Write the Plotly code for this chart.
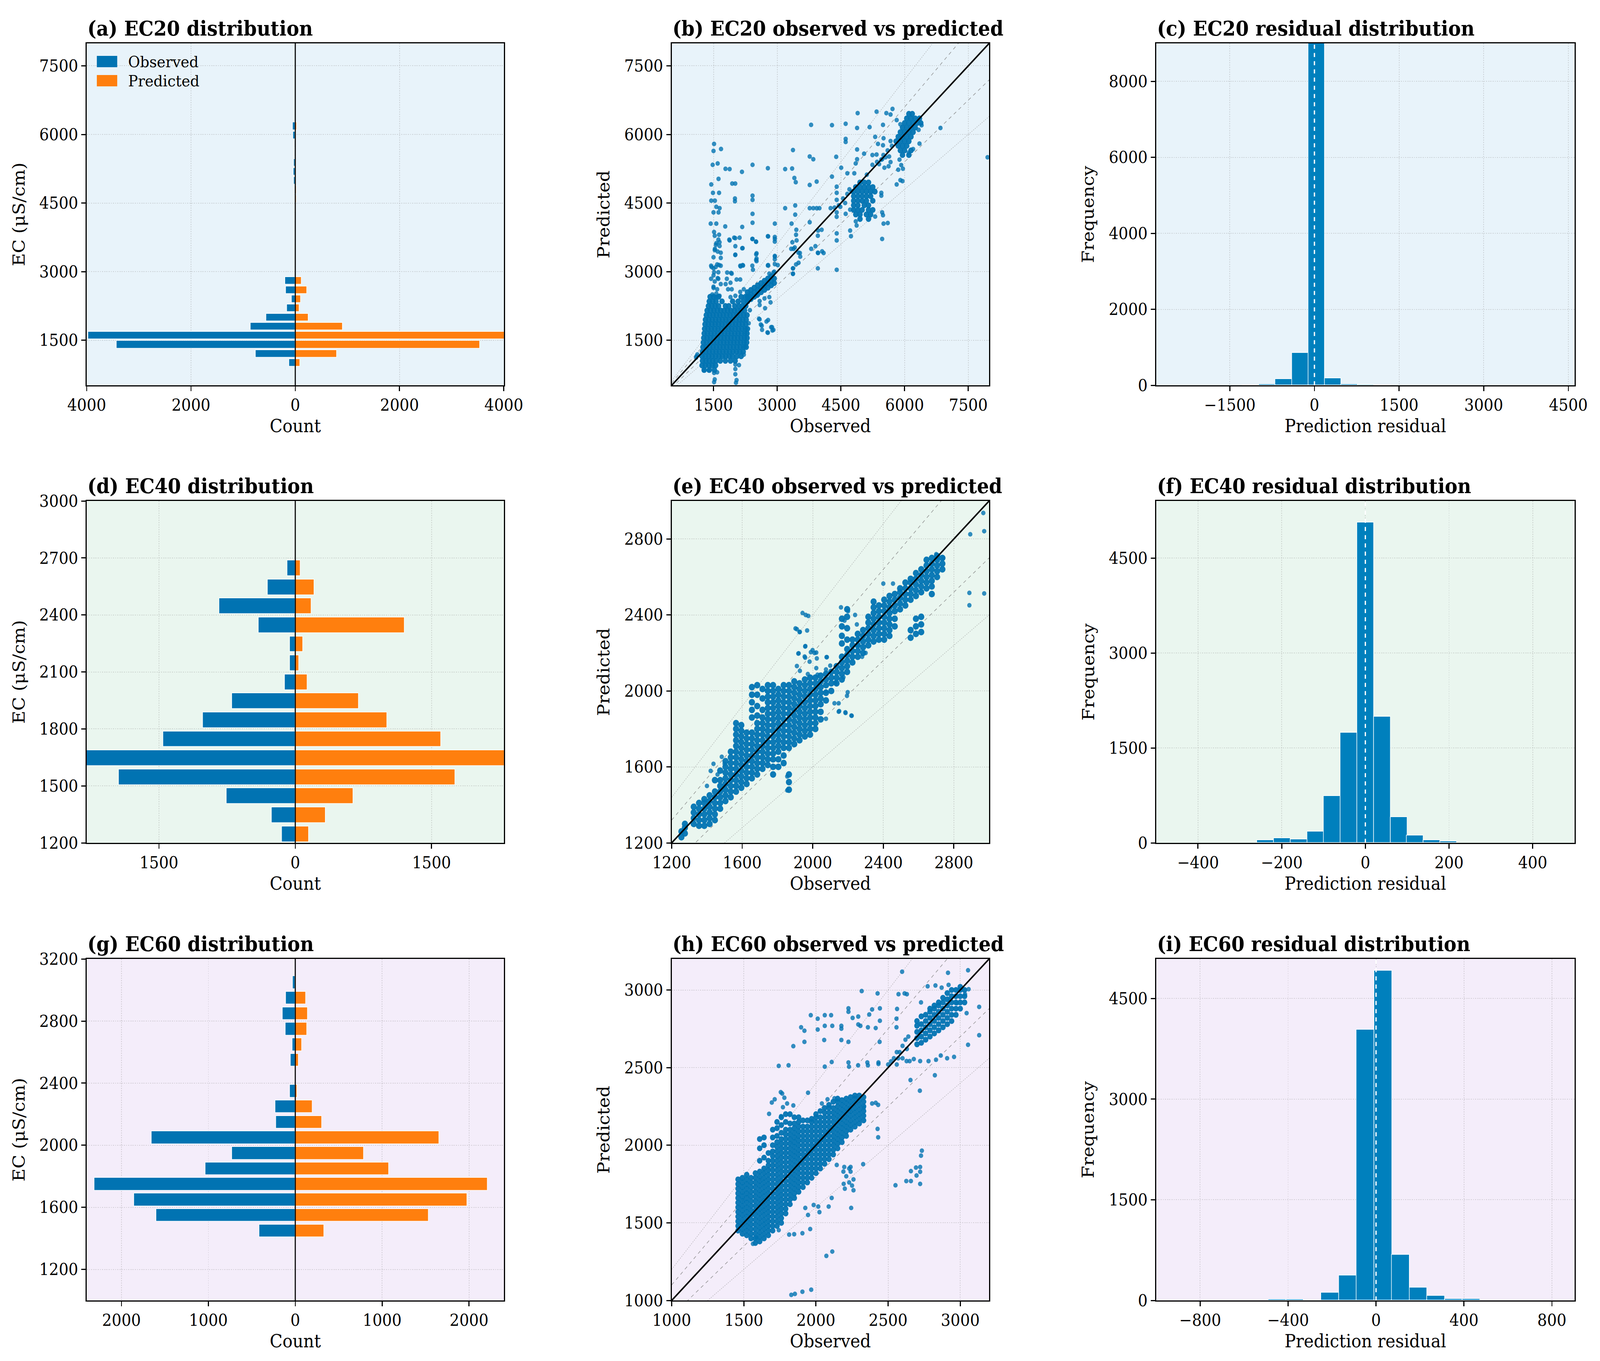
import plotly.graph_objects as go

FONT = "DejaVu Serif"
BLUE = "#0173b2"
ORANGE = "#ff7f0e"
HIST = "#0080bd"
BG = ["#e8f3fa", "#eaf6ef", "#f4edfa"]

# ---------------- (a) EC20 distribution ----------------
a_bins = [1005, 1204, 1403, 1602, 1801, 2000, 2199, 2398, 2597, 2796, 2995, 3194, 3393, 3592,
          3791, 3990, 4189, 4388, 4587, 4786, 4985, 5184, 5383, 5582, 5781, 5980, 6179]
a_obs = [117, 757, 3425, 3973, 855, 555, 163, 72, 183, 196, 0, 0, 0, 0,
         0, 0, 5, 8, 8, 10, 30, 33, 26, 12, 15, 40, 46]
a_pred = [91, 796, 3542, 4300, 907, 254, 78, 104, 222, 117, 0, 0, 0, 0,
          0, 0, 7, 18, 20, 20, 10, 8, 10, 13, 13, 13, 26]
a_binw = 199

# ---------------- (d) EC40 distribution ----------------
d_bins = [1246, 1346, 1446, 1546, 1646, 1746, 1846, 1946, 2046, 2146, 2246, 2346, 2446, 2546, 2646]
d_obs = [146, 261, 758, 1943, 2500, 1452, 1019, 697, 115, 60, 60, 404, 838, 306, 86]
d_pred = [150, 334, 637, 1758, 2500, 1602, 1010, 697, 131, 41, 86, 1204, 175, 210, 57]
d_binw = 100

# ---------------- (g) EC60 distribution ----------------
g_bins = [1448, 1548, 1648, 1748, 1848, 1948, 2048, 2148, 2248, 2348, 2448, 2548, 2648, 2748, 2848, 2948, 3048]
g_obs = [413, 1600, 1857, 2313, 1033, 727, 1653, 223, 230, 63, 0, 53, 33, 113, 147, 110, 27]
g_pred = [333, 1533, 1977, 2213, 1077, 787, 1657, 307, 197, 20, 0, 40, 77, 133, 143, 120, 7]
g_binw = 100

# ---------------- residual histograms ----------------
c_centers = [-1131, -839, -547, -255, 37, 329, 621, 913, 1205]
c_counts = [6, 30, 169, 852, 9400, 184, 30, 15, 5]
c_binw = 292
f_centers = [-239, -199, -159, -119, -80, -40, 0, 40, 80, 119, 159, 199]
f_counts = [44, 71, 57, 176, 741, 1743, 5065, 1994, 410, 119, 40, 22]
f_binw = 40
i_centers = [-449, -369, -289, -209, -129, -49, 32, 112, 192, 272, 353, 433]
i_counts = [15, 15, 0, 118, 371, 4033, 4918, 678, 190, 67, 21, 21]
i_binw = 80.5

# ---------------- (b) EC20 observed vs predicted ----------------
# dense rows: (predicted, [observed ...])
b_core_rows = [
    (850, [1280, 1400, 1520]),
    (950, [1230, 1310, 1390, 1470, 1550]),
    (1050, [1240, 1320, 1400, 1480, 1560, 1660, 1780, 1900, 2010]),
    (1150, [1230, 1310, 1390, 1470, 1550, 1630, 1710, 1790, 1870, 1950, 2050, 2150]),
    (1250, [1240, 1320, 1400, 1480, 1560, 1640, 1720, 1800, 1880, 1960, 2040, 2120, 2200]),
    (1350, [1250, 1330, 1410, 1490, 1570, 1650, 1730, 1810, 1890, 1970, 2050, 2130, 2210, 2270]),
    (1450, [1260, 1340, 1420, 1500, 1580, 1660, 1740, 1820, 1900, 1980, 2060, 2140, 2220, 2280]),
    (1550, [1270, 1350, 1430, 1510, 1590, 1670, 1750, 1830, 1910, 1990, 2070, 2150, 2230, 2290]),
    (1650, [1280, 1360, 1440, 1520, 1600, 1680, 1760, 1840, 1920, 2000, 2080, 2160, 2240, 2290]),
    (1750, [1290, 1370, 1450, 1530, 1610, 1690, 1770, 1850, 1930, 2010, 2090, 2170, 2250, 2300]),
    (1850, [1300, 1380, 1460, 1540, 1620, 1700, 1780, 1860, 1940, 2020, 2100, 2180, 2260]),
    (1950, [1310, 1390, 1470, 1550, 1630, 1710, 1790, 1870, 1950, 2030, 2110, 2190, 2270]),
    (2050, [1330, 1410, 1490, 1570, 1650, 1730, 1810, 1890, 1970, 2050, 2130, 2210, 2290]),
    (2150, [1350, 1430, 1510, 1590, 1670, 1750, 1830, 1910, 1990, 2070, 2150, 2230]),
    (2250, [1380, 1460, 1540, 1620, 1780, 1860, 2000, 2100, 2180, 2260]),
    (2350, [1400, 1480, 1560, 1700, 1950, 2080, 2200, 2300]),
    (2450, [1420, 1500, 1620, 2150, 2250, 2350]),
    (4950, [4950, 5050, 5150]),
    (4850, [4850, 4950, 5050, 5150, 5250]),
    (4750, [4800, 4900, 5000, 5100, 5200, 5300]),
    (4650, [4800, 4900, 5000, 5100, 5200]),
    (4550, [4800, 4900, 5000, 5100, 5250]),
    (4450, [4800, 4900, 5050, 5150]),
    (4350, [4800, 4900, 5000, 5150, 5250]),
    (4250, [4850, 4950, 5100, 5200]),
    (4150, [4950, 5150]),
    (6450, [6100, 6180]),
    (6350, [6050, 6150, 6250, 6350]),
    (6250, [6000, 6100, 6200, 6300, 6380]),
    (6150, [5950, 6050, 6150, 6250]),
    (6050, [5900, 6000, 6100, 6200]),
    (5950, [5850, 5950, 6050, 6150]),
    (5850, [5800, 5900, 6000, 6100]),
    (5750, [5850, 5950, 6050]),
    (5650, [5900, 6000, 6150]),
    (5550, [5950, 6100]),
]
# dense columns: (observed, [predicted ...])
b_band_cols = [
    (2300, [2350, 2450, 2550]),
    (2380, [2400, 2500, 2600]),
    (2460, [2450, 2550, 2650]),
    (2540, [2500, 2600, 2700]),
    (2620, [2550, 2650, 2750]),
    (2700, [2600, 2700, 2800]),
    (2780, [2650, 2750, 2850]),
    (2860, [2700, 2800, 2900]),
    (2930, [2750, 2850]),
]
# scattered points: (observed, predicted)
b_points = [
    (1100, 1150), (1120, 1190), (1090, 1120),
    (1271, 843), (1386, 843), (1514, 786), (1586, 800), (1529, 643), (1514, 586), (2014, 971), (2014, 871),
    (2100, 957), (2014, 757), (2043, 629), (2029, 571), (2214, 1186), (2243, 1357),
    (1443, 2843), (1529, 2786), (1614, 2843), (1671, 2729), (1500, 2671), (1586, 2614), (1471, 2500),
    (1557, 2443), (1643, 2471), (1443, 3129), (1500, 3071), (1586, 3157), (1614, 2986), (1671, 3129),
    (1514, 2986), (1529, 3786), (1614, 3700), (1557, 3586), (1643, 3643), (1529, 3471), (1671, 3414), (1671, 3300),
    (1814, 2843), (1900, 2757), (2043, 2829), (2129, 2829), (1929, 2957), (1786, 2729), (1843, 2614),
    (1929, 2614), (2014, 2471), (2129, 2557), (2214, 2614), (1900, 2443),
    (1871, 3700), (1986, 3743), (2114, 3743), (2014, 3557), (2186, 3514), (2014, 3371), (2129, 3129),
    (2186, 3143), (1914, 2971),
    (2414, 3714), (2500, 3657), (2514, 3400), (2514, 3286), (2514, 3229), (2414, 3129), (2429, 3043),
    (2786, 3771), (2943, 3757), (2943, 3657), (2786, 3143), (2943, 3343), (2943, 3271), (3014, 3143),
    (2814, 2957), (2929, 3000),
    (3329, 3500), (3414, 3529), (3357, 3643), (3500, 3414), (3543, 3329), (3443, 3157), (3371, 3071),
    (3371, 2957), (3800, 3500), (3957, 3414), (4057, 3443), (3957, 3071), (3957, 3786), (3900, 3557),
    (2529, 2471), (2586, 2357), (2700, 2414), (2814, 2443), (2843, 2329), (2714, 2200), (2586, 2271),
    (2586, 1957), (2786, 1943), (2614, 1843), (2643, 1729), (2771, 1671), (2857, 1786), (2886, 1714),
    (2357, 2157), (2329, 1871), (2570, 1971), (2636, 1818), (2747, 1910), (2780, 1665), (2879, 1787), (2911, 1726),
    (1513, 5793), (1500, 5640), (1677, 5683), (1480, 5335), (1598, 5365), (1618, 5029), (1447, 4907),
    (1487, 4723), (1631, 4723), (1447, 4552), (1533, 4552), (1566, 4417), (1500, 4295), (1644, 4387),
    (1434, 4050), (1566, 4050), (1618, 4295), (1513, 3867), (1631, 3806), (1566, 3622), (1644, 3561),
    (1533, 3500), (1598, 3439), (1500, 3316), (1454, 3102), (1552, 3102), (1631, 3145), (1500, 2919),
    (1598, 2858), (1500, 2644), (1566, 2521),
    (1782, 5249), (1880, 5243), (1940, 4925), (2012, 4925), (2005, 4600), (2005, 4540), (1776, 3989),
    (1880, 3683), (2012, 3732), (2012, 3365), (2176, 3977), (2176, 3512), (2137, 3115), (2196, 3133), (1822, 2980),
    (2170, 5182), (2419, 5335), (2419, 4662), (2419, 4570), (2419, 4264), (2419, 4069), (2419, 3714),
    (2504, 3653), (2504, 3378), (2504, 3255), (2780, 5261), (2780, 3775), (2944, 3714), (2944, 4050),
    (2944, 3329), (2944, 3164), (2780, 3133), (2911, 2980),
    (3187, 5243), (3187, 4387), (3351, 5255), (3371, 5659), (3404, 5047), (3437, 4955), (3424, 4448),
    (3424, 4246), (3450, 3916), (3444, 3806), (3457, 3683), (3384, 3500), (3535, 3408), (3371, 3072),
    (3371, 2950), (3502, 3194), (3338, 4050),
    (3765, 5518), (3850, 5457), (3765, 4895), (3798, 6209), (3765, 4387), (3850, 4387), (3929, 4387),
    (3995, 4387), (3929, 4968), (3765, 4081), (3962, 3898), (4047, 3916), (3962, 3408), (4093, 3408),
    (4290, 6203), (4290, 5078), (4389, 5512), (4401, 4858), (4401, 4723), (4401, 4570), (4257, 4387),
    (4401, 4295), (4401, 3836), (4401, 3683), (4401, 3041), (4612, 6234), (4612, 5903), (4612, 5836),
    (4507, 5273), (4612, 4264), (4717, 4356), (4717, 3898), (4737, 3775), (4487, 4417),
    (4881, 5457), (4881, 5671), (4881, 6142), (4894, 6466), (5176, 6160), (5340, 6497), (5491, 6209),
    (5570, 6466), (5669, 6436), (5715, 6558), (5813, 6314), (5899, 6222), (5307, 5946), (5373, 5793),
    (5491, 5763), (5504, 5916), (5669, 5855), (5242, 5549), (5340, 5561), (5471, 5457), (5636, 5518),
    (5669, 5396), (5524, 5273), (5623, 5304), (5045, 5579), (5110, 5121), (5242, 5335), (4848, 5365),
    (4815, 5151), (4651, 5151),
    (5452, 4723), (5452, 4662), (5471, 4295), (5491, 4234), (5504, 4050), (5603, 4063), (5471, 3714),
    (5307, 4203), (5813, 4907), (6844, 6142), (7953, 5500),
    (4350, 4400), (4450, 4450), (4550, 4600), (4650, 4700), (4700, 4800), (4750, 4750), (4400, 4200),
    (4600, 4500), (5350, 5400), (5450, 5450), (5500, 5550), (5600, 5650), (5700, 5750), (5400, 5350),
    (5550, 5500), (4850, 4100), (4870, 4010),
    (5880, 5450), (5920, 5330), (5960, 5250), (5850, 5230), (5900, 5000), (5950, 4980), (6100, 5600),
    (6200, 5680), (6330, 6100), (6400, 6200), (6350, 5800),
]

# ---------------- (e) EC40 observed vs predicted ----------------
e_cols = [
    (1255, [1230, 1260]),
    (1275, [1250, 1280, 1300]),
    (1325, [1300, 1330, 1360, 1390]),
    (1355, [1290, 1320, 1350, 1380, 1410]),
    (1385, [1290, 1320, 1350, 1380, 1410, 1430]),
    (1415, [1300, 1330, 1360, 1390, 1420, 1450]),
    (1445, [1320, 1350, 1380, 1410, 1440, 1470, 1530]),
    (1475, [1380, 1410, 1440, 1470, 1500, 1530, 1580]),
    (1505, [1420, 1450, 1480, 1510, 1540, 1570, 1600, 1630]),
    (1535, [1440, 1470, 1500, 1530, 1560, 1590, 1620, 1650, 1680]),
    (1565, [1470, 1500, 1530, 1560, 1590, 1620, 1650, 1680, 1710, 1740, 1770, 1800, 1830]),
    (1595, [1490, 1520, 1550, 1580, 1610, 1640, 1670, 1700, 1730, 1760, 1790, 1820]),
    (1625, [1510, 1540, 1570, 1600, 1630, 1660, 1690, 1720, 1750, 1780]),
    (1655, [1540, 1570, 1600, 1630, 1660, 1690, 1720, 1750, 1780, 1860, 1900, 1940, 1980, 2020]),
    (1685, [1560, 1590, 1620, 1650, 1680, 1710, 1740, 1770, 1800, 1830, 1870, 1920, 1980, 2030]),
    (1715, [1590, 1620, 1650, 1680, 1710, 1740, 1770, 1800, 1830, 1860, 1900, 1960, 2010]),
    (1745, [1610, 1640, 1670, 1700, 1730, 1760, 1790, 1820, 1850, 1880, 1910, 1940, 1970, 2000, 2030]),
    (1775, [1560, 1600, 1640, 1670, 1700, 1730, 1760, 1790, 1820, 1850, 1880, 1910, 1940, 1970, 2000, 2030]),
    (1805, [1600, 1640, 1680, 1710, 1740, 1770, 1800, 1830, 1860, 1890, 1920, 1950, 1980, 2010]),
    (1835, [1620, 1660, 1700, 1730, 1760, 1790, 1820, 1850, 1880, 1910, 1940, 1970, 2000, 2030]),
    (1865, [1480, 1520, 1560, 1700, 1730, 1760, 1790, 1820, 1850, 1880, 1910, 1940, 1970, 2000, 2030]),
    (1895, [1720, 1750, 1780, 1810, 1840, 1870, 1900, 1930, 1960, 1990, 2020, 2050]),
    (1925, [1740, 1770, 1800, 1830, 1860, 1890, 1920, 1950, 1980, 2010, 2040]),
    (1955, [1760, 1790, 1820, 1850, 1880, 1910, 1940, 1970, 2000, 2030, 2060]),
    (1985, [1770, 1800, 1830, 1860, 1890, 1920, 1950, 1980, 2010, 2040, 2070]),
    (2015, [1800, 1830, 1860, 1890, 1920, 1950, 1980, 2010, 2040, 2070]),
    (2045, [1850, 1890, 1930, 1960, 1990, 2020, 2050, 2080]),
    (2075, [1950, 1990, 2030, 2060, 2090]),
    (2105, [2000, 2040, 2070, 2100]),
    (2135, [2040, 2070, 2100, 2130]),
    (2165, [2060, 2090, 2120, 2150, 2180, 2250, 2290, 2340, 2380]),
    (2195, [2100, 2130, 2160, 2190, 2220, 2270, 2330, 2390, 2430]),
    (2225, [2150, 2180, 2210, 2240, 2270]),
    (2255, [2180, 2210, 2240, 2270, 2300]),
    (2285, [2200, 2230, 2260, 2290, 2320]),
    (2315, [2240, 2270, 2300, 2330, 2360, 2390]),
    (2345, [2260, 2290, 2320, 2350, 2380, 2410, 2440, 2470]),
    (2375, [2270, 2300, 2330, 2360, 2390, 2420, 2450]),
    (2405, [2270, 2300, 2330, 2360, 2390, 2420, 2450, 2480]),
    (2435, [2290, 2320, 2350, 2380, 2410, 2440, 2470, 2500]),
    (2465, [2340, 2380, 2420, 2450, 2480, 2510]),
    (2495, [2430, 2460, 2490, 2520, 2540]),
    (2525, [2450, 2480, 2510, 2540, 2570]),
    (2555, [2280, 2320, 2480, 2510, 2540, 2570, 2590]),
    (2585, [2300, 2340, 2380, 2500, 2530, 2560, 2590, 2620]),
    (2615, [2310, 2350, 2390, 2520, 2550, 2580, 2610, 2640]),
    (2645, [2540, 2570, 2600, 2630, 2660, 2690]),
    (2675, [2510, 2550, 2580, 2610, 2640, 2670, 2700]),
    (2705, [2600, 2630, 2660, 2690, 2710]),
    (2735, [2640, 2670, 2700]),
]
e_points = [
    (1942, 2410), (1960, 2400), (1975, 2395), (1902, 2329), (1925, 2310), (1918, 2197), (1957, 2234),
    (1989, 2204), (2010, 2200), (2080, 2178), (1957, 2175), (1910, 2131), (1855, 1476), (1855, 1550),
    (2147, 1891), (2186, 1884), (2221, 1869), (2194, 1974), (2131, 2040), (2160, 2440), (2200, 2420),
    (2240, 2400), (2180, 2370), (2250, 2350), (2257, 2241), (2300, 2200), (2280, 2180), (2700, 2720),
    (2740, 2700), (2400, 2565), (2455, 2565), (2967, 2937), (2893, 2825), (2972, 2841), (2888, 2516),
    (2888, 2451), (2972, 2513), (1437, 1616), (1484, 1653), (1421, 1579), (1500, 1616), (1400, 1500),
    (1460, 1560), (1910, 2325), (1927, 2311), (1968, 2318), (1958, 2236), (1920, 2198), (1999, 2215),
    (2020, 2202), (2078, 2178), (1954, 2181), (1982, 2154), (2023, 2171), (2020, 2120), (1927, 2106),
    (1972, 2089), (2027, 2085), (2075, 2113), (2099, 2133), (2126, 2044), (2174, 2072), (2198, 1993),
    (2147, 1935), (2150, 1894), (2185, 1887), (2219, 1870), (2075, 1853), (2075, 1997), (2123, 1935),
]

# ---------------- (h) EC60 observed vs predicted ----------------
h_cols = [
    (1460, [1450, 1480, 1510, 1540, 1570, 1600, 1630, 1660, 1690, 1720, 1750, 1780]),
    (1490, [1430, 1460, 1490, 1520, 1550, 1580, 1610, 1640, 1670, 1700, 1730, 1760, 1790]),
    (1520, [1420, 1450, 1480, 1510, 1540, 1570, 1600, 1630, 1660, 1690, 1720, 1750, 1780, 1810]),
    (1550, [1400, 1430, 1460, 1490, 1520, 1550, 1580, 1610, 1640, 1670, 1700, 1730, 1760, 1790]),
    (1580, [1370, 1400, 1430, 1460, 1490, 1520, 1550, 1580, 1610, 1640, 1670, 1700, 1730, 1760, 1790, 1820]),
    (1610, [1380, 1410, 1440, 1470, 1500, 1530, 1560, 1590, 1620, 1650, 1680, 1710, 1740, 1770, 1800, 1830,
            1900, 1980, 2040]),
    (1640, [1400, 1430, 1460, 1490, 1520, 1550, 1580, 1610, 1640, 1670, 1700, 1730, 1760, 1790, 1820, 1850,
            1920, 2000, 2050]),
    (1670, [1420, 1450, 1480, 1510, 1540, 1570, 1600, 1630, 1660, 1690, 1720, 1750, 1780, 1810, 1840, 1870,
            1900, 1950]),
    (1700, [1450, 1480, 1510, 1540, 1570, 1600, 1630, 1660, 1690, 1720, 1750, 1780, 1810, 1840, 1870, 1900,
            1930, 1960, 2000, 2050, 2100]),
    (1730, [1480, 1510, 1540, 1570, 1600, 1630, 1660, 1690, 1720, 1750, 1780, 1810, 1840, 1870, 1900, 1930,
            1960, 1990, 2020, 2060, 2110, 2150]),
    (1760, [1500, 1530, 1560, 1590, 1620, 1650, 1680, 1710, 1740, 1770, 1800, 1830, 1860, 1890, 1920, 1950,
            1980, 2010, 2040, 2080, 2130, 2180]),
    (1790, [1560, 1590, 1620, 1650, 1680, 1710, 1740, 1770, 1800, 1830, 1860, 1890, 1920, 1950, 1980, 2010,
            2040, 2070, 2100, 2150, 2200]),
    (1820, [1620, 1650, 1680, 1710, 1740, 1770, 1800, 1830, 1860, 1890, 1920, 1950, 1980, 2010, 2040, 2070,
            2100, 2140, 2200]),
    (1850, [1660, 1690, 1720, 1750, 1780, 1810, 1840, 1870, 1900, 1930, 1960, 1990, 2020, 2050, 2080, 2110,
            2140, 2180]),
    (1880, [1700, 1730, 1760, 1790, 1820, 1850, 1880, 1910, 1940, 1970, 2000, 2030, 2060, 2090, 2120, 2150, 2180]),
    (1910, [1730, 1760, 1790, 1820, 1850, 1880, 1910, 1940, 1970, 2000, 2030, 2060, 2090, 2120, 2160]),
    (1940, [1760, 1790, 1820, 1850, 1880, 1910, 1940, 1970, 2000, 2030, 2060, 2090, 2120, 2160]),
    (1970, [1790, 1820, 1850, 1880, 1910, 1940, 1970, 2000, 2030, 2060, 2090, 2120, 2150, 2170]),
    (2000, [1820, 1850, 1880, 1910, 1940, 1970, 2000, 2030, 2060, 2090, 2120, 2150, 2180, 2200]),
    (2030, [1850, 1880, 1910, 1940, 1970, 2000, 2030, 2060, 2090, 2120, 2150, 2180, 2220]),
    (2060, [1880, 1910, 1940, 1970, 2000, 2030, 2060, 2090, 2120, 2150, 2180, 2210, 2240]),
    (2090, [1910, 1940, 1970, 2000, 2030, 2060, 2090, 2120, 2150, 2180, 2210, 2240, 2260]),
    (2120, [1940, 1970, 2000, 2030, 2060, 2090, 2120, 2150, 2180, 2210, 2240, 2280]),
    (2150, [1980, 2010, 2040, 2070, 2100, 2130, 2160, 2190, 2220, 2250, 2280, 2300]),
    (2180, [2020, 2050, 2080, 2110, 2140, 2170, 2200, 2230, 2260, 2290]),
    (2210, [2060, 2090, 2120, 2150, 2180, 2210, 2240, 2270, 2300]),
    (2240, [2100, 2130, 2160, 2190, 2220, 2250, 2280, 2310]),
    (2270, [2120, 2150, 2180, 2210, 2240, 2270, 2300, 2320]),
    (2300, [2140, 2170, 2200, 2230, 2260, 2290, 2320]),
    (2330, [2160, 2190, 2220, 2250, 2280, 2310]),
    (2700, [2650, 2690, 2730, 2770, 2800]),
    (2730, [2660, 2700, 2740, 2780, 2830]),
    (2760, [2680, 2720, 2760, 2800, 2840]),
    (2790, [2700, 2740, 2780, 2820, 2860, 2880]),
    (2820, [2720, 2760, 2800, 2840, 2880, 2900]),
    (2850, [2740, 2780, 2820, 2860, 2900, 2920]),
    (2880, [2760, 2800, 2840, 2880, 2920, 2950]),
    (2910, [2780, 2820, 2860, 2900, 2940, 2980]),
    (2940, [2800, 2840, 2880, 2920, 2960, 3000]),
    (2970, [2840, 2880, 2920, 2960, 3000]),
    (3000, [2880, 2920, 2960, 3000, 3020]),
    (3030, [2920, 2960, 3000]),
]
h_points = [
    (2190, 1830), (2210, 1800), (2230, 1760), (2250, 1740), (2200, 1720), (2240, 1830), (2260, 1780),
    (2260, 1710), (2230, 1850),
    (2626, 1769), (2658, 1769), (2658, 1833), (2697, 1805), (2722, 1751), (2722, 1829), (2722, 1860),
    (2728, 1933), (2734, 1965), (2693, 1856), (2551, 1742),
    (2597, 3118), (2915, 3111), (3054, 3127), (2317, 2993), (2427, 2978), (2630, 2973), (2774, 3024),
    (2828, 3029), (2871, 3015), (2919, 3033), (2728, 2920), (2929, 2938), (2977, 2915), (3033, 2973),
    (3058, 3005), (3131, 2891), (3044, 2851), (3131, 2709), (3054, 2647), (2957, 2569), (2909, 2560),
    (2824, 2451), (2720, 2351), (2865, 2578), (2780, 2542), (2832, 2551), (2655, 2420), (2628, 2542),
    (2649, 2542), (2678, 2555), (2722, 2542), (2614, 2978), (2572, 2973), (2562, 2878), (2558, 2815),
    (2558, 2760), (2389, 2875), (2443, 2882), (2443, 2802), (2369, 2842), (2360, 2760), (2414, 2755),
    (2441, 2666), (2433, 2533), (2433, 2524), (2360, 2515), (2427, 2105), (2431, 2051), (2414, 2273),
    (2431, 2260), (2331, 2242),
    (1843, 2638), (1897, 2760), (1920, 2738), (1964, 2838), (2012, 2815), (2061, 2838), (2105, 2838),
    (2061, 2769), (2012, 2745), (1920, 2666), (2057, 2678), (2113, 2769), (2176, 2769), (2176, 2751),
    (2225, 2882), (2225, 2860), (2254, 2820), (2308, 2769), (2293, 2829), (2293, 2778), (2176, 2678),
    (2225, 2666), (2225, 2533), (2229, 2506), (2109, 2536), (2061, 2506), (2292, 2515), (2356, 2533),
    (1810, 2515), (1742, 2511), (1945, 2338), (2041, 2269), (2080, 2296), (2128, 2302), (2234, 2236),
    (2389, 2269),
    (1675, 2202), (1694, 2275), (1714, 2296), (1771, 2245), (1758, 2187), (1800, 2269), (1843, 2256),
    (1756, 2342), (1766, 2333), (1781, 2306),
    (1742, 1453), (1906, 1433), (1814, 1424), (1849, 1427), (1960, 1460), (1563, 1365), (1588, 1405),
    (1829, 1036), (1854, 1042), (1906, 1056), (1967, 1069), (2072, 1287), (2113, 1315),
    (2196, 1860), (2144, 1873), (2240, 1860), (2192, 1751), (2244, 1596), (2327, 1878), (2088, 1605),
    (2024, 1569), (2016, 1605), (1984, 1615), (1926, 1596), (1945, 1551), (2109, 1660),
    (2560, 2520), (2570, 2560), (2580, 2600), (2600, 2640), (2620, 2680), (2640, 2700), (2560, 2600),
    (2600, 2560), (2630, 2620), (2500, 2520), (2520, 2540), (2540, 2560),
]

# ---------------- axis ranges / ticks ----------------
a_xrange = [-4000, 4000]; a_yrange = [515, 7990]
d_xrange = [-2295, 2295]; d_yrange = [1200, 3000]
g_xrange = [-2400, 2400]; g_yrange = [1000, 3200]
b_range = [515, 7990]
e_range = [1200, 3000]
h_range = [1000, 3200]
c_xrange = [-2805, 4610]; c_yrange = [0, 9000]
f_xrange = [-500, 500]; f_yrange = [0, 5404]
i_xrange = [-1000, 903]; i_yrange = [0, 5090]

a_xticks = [-4000, -2000, 0, 2000, 4000]
a_yticks = [1500, 3000, 4500, 6000, 7500]
d_xticks = [-1500, 0, 1500]
d_yticks = [1200, 1500, 1800, 2100, 2400, 2700, 3000]
g_xticks = [-2000, -1000, 0, 1000, 2000]
g_yticks = [1200, 1600, 2000, 2400, 2800, 3200]
b_ticks = [1500, 3000, 4500, 6000, 7500]
e_ticks = [1200, 1600, 2000, 2400, 2800]
h_ticks = [1000, 1500, 2000, 2500, 3000]
c_xticks = [-1500, 0, 1500, 3000, 4500]; c_yticks = [0, 2000, 4000, 6000, 8000]
f_xticks = [-400, -200, 0, 200, 400]; f_yticks = [0, 1500, 3000, 4500]
i_xticks = [-800, -400, 0, 400, 800]; i_yticks = [0, 1500, 3000, 4500]

titles = ["(a) EC20 distribution", "(b) EC20 observed vs predicted", "(c) EC20 residual distribution",
          "(d) EC40 distribution", "(e) EC40 observed vs predicted", "(f) EC40 residual distribution",
          "(g) EC60 distribution", "(h) EC60 observed vs predicted", "(i) EC60 residual distribution"]


def expand_rows(rows):
    xs, ys = [], []
    for yv, xl in rows:
        for xv in xl:
            xs.append(xv); ys.append(yv)
    return xs, ys


def expand_cols(cols):
    xs, ys = [], []
    for xv, yl in cols:
        for yv in yl:
            xs.append(xv); ys.append(yv)
    return xs, ys


def fmt_num(v):
    s = str(int(abs(v)))
    return ("\u2212" + s) if v < 0 else s


W, H = 4395.0, 3483.0
col_dom = [[0.0542, 0.3149], [0.4198, 0.6182], [0.7226, 0.9841]]
row_dom = [[0.7169, 0.9681], [0.3807, 0.6319], [0.0445, 0.2954]]

fig = go.Figure()


def names(k):
    xa = "x" if k == 1 else f"x{k}"
    ya = "y" if k == 1 else f"y{k}"
    return xa, ya


TICKF = dict(family=FONT, size=42, color="black")
LABF = dict(family=FONT, size=46, color="black")


def axis_dict(rng, tickvals, ticktext, title, anchor, dom, standoff):
    return dict(
        domain=dom, anchor=anchor, range=rng, autorange=False,
        tickmode="array", tickvals=tickvals, ticktext=ticktext,
        showline=True, linecolor="black", linewidth=3, mirror=True,
        ticks="outside", ticklen=12, tickwidth=2.5, tickcolor="black",
        tickfont=TICKF, showgrid=True, gridcolor="rgba(150,150,150,0.35)",
        griddash="dot", gridwidth=1.5, zeroline=False, automargin=False,
        title=dict(text=title, font=LABF, standoff=standoff),
    )


layout_axes = {}
shapes = []
annotations = []

mirror_data = {1: (a_bins, a_obs, a_pred, a_binw, a_xrange, a_yrange, a_xticks, a_yticks),
               4: (d_bins, d_obs, d_pred, d_binw, d_xrange, d_yrange, d_xticks, d_yticks),
               7: (g_bins, g_obs, g_pred, g_binw, g_xrange, g_yrange, g_xticks, g_yticks)}
hist_data = {3: (c_centers, c_counts, c_binw, c_xrange, c_yrange, c_xticks, c_yticks),
             6: (f_centers, f_counts, f_binw, f_xrange, f_yrange, f_xticks, f_yticks),
             9: (i_centers, i_counts, i_binw, i_xrange, i_yrange, i_xticks, i_yticks)}

bx1, by1 = expand_rows(b_core_rows)
bx2, by2 = expand_cols(b_band_cols)
ex1, ey1 = expand_cols(e_cols)
hx1, hy1 = expand_cols(h_cols)
# panel: (range, ticks, dense x, dense y, dense marker size, scattered points)
scatter_data = {
    2: (b_range, b_ticks, bx1 + bx2, by1 + by2, 15, b_points),
    5: (e_range, e_ticks, ex1, ey1, 17, e_points),
    8: (h_range, h_ticks, hx1, hy1, 15, h_points),
}

for k in range(1, 10):
    r = (k - 1) // 3
    c = (k - 1) % 3
    xa, ya = names(k)
    xkey = "xaxis" if k == 1 else f"xaxis{k}"
    ykey = "yaxis" if k == 1 else f"yaxis{k}"
    dref_x = "x domain" if k == 1 else f"x{k} domain"
    dref_y = "y domain" if k == 1 else f"y{k} domain"

    shapes.append(dict(type="rect", xref=dref_x, yref=dref_y, x0=0, x1=1, y0=0, y1=1,
                       fillcolor=BG[r], line=dict(width=0), layer="below"))

    if k in mirror_data:
        bins, obs, pred, bw, xr, yr, xt, yt = mirror_data[k]
        fig.add_trace(go.Bar(y=bins, x=[-v for v in obs], orientation="h", width=bw * 0.82,
                             marker=dict(color=BLUE, line=dict(color="white", width=1.5)),
                             xaxis=xa, yaxis=ya, showlegend=False, name="Observed"))
        fig.add_trace(go.Bar(y=bins, x=pred, orientation="h", width=bw * 0.82,
                             marker=dict(color=ORANGE, line=dict(color="white", width=1.5)),
                             xaxis=xa, yaxis=ya, showlegend=False, name="Predicted"))
        shapes.append(dict(type="line", xref=xa, yref=dref_y, x0=0, x1=0, y0=0, y1=1,
                           line=dict(color="black", width=3)))
        layout_axes[xkey] = axis_dict(xr, xt, [str(abs(v)) for v in xt], "Count", ya, col_dom[c], 14)
        layout_axes[ykey] = axis_dict(yr, yt, [str(v) for v in yt], "EC (\u03bcS/cm)", xa, row_dom[r], 26)
    elif k in scatter_data:
        rng, tk, dx, dy, dsize, pts = scatter_data[k]
        lo, hi = rng
        for fac, col, dash in [(1.2, "rgba(150,150,150,0.55)", "dot"),
                               (0.8, "rgba(150,150,150,0.55)", "dot"),
                               (1.1, "rgba(120,120,120,0.75)", "dash"),
                               (0.9, "rgba(120,120,120,0.75)", "dash")]:
            fig.add_trace(go.Scatter(x=[lo, hi], y=[lo * fac, hi * fac], mode="lines",
                                     line=dict(color=col, dash=dash, width=1.6),
                                     xaxis=xa, yaxis=ya, showlegend=False, hoverinfo="skip"))
        fig.add_trace(go.Scatter(x=[p[0] for p in pts], y=[p[1] for p in pts], mode="markers",
                                 marker=dict(color=BLUE, size=12, opacity=0.8, line=dict(width=0)),
                                 xaxis=xa, yaxis=ya, showlegend=False))
        fig.add_trace(go.Scatter(x=dx, y=dy, mode="markers",
                                 marker=dict(color=BLUE, size=dsize, opacity=0.95, line=dict(width=0)),
                                 xaxis=xa, yaxis=ya, showlegend=False))
        fig.add_trace(go.Scatter(x=[lo, hi], y=[lo, hi], mode="lines",
                                 line=dict(color="black", width=4),
                                 xaxis=xa, yaxis=ya, showlegend=False, hoverinfo="skip"))
        layout_axes[xkey] = axis_dict(rng, tk, [str(v) for v in tk], "Observed", ya, col_dom[c], 14)
        layout_axes[ykey] = axis_dict(rng, tk, [str(v) for v in tk], "Predicted", xa, row_dom[r], 26)
    else:
        cen, cnt, bw, xr, yr, xt, yt = hist_data[k]
        fig.add_trace(go.Bar(x=cen, y=cnt, width=bw,
                             marker=dict(color=HIST, line=dict(color="white", width=1.5)),
                             xaxis=xa, yaxis=ya, showlegend=False))
        shapes.append(dict(type="line", xref=xa, yref=dref_y, x0=0, x1=0, y0=0, y1=1,
                           line=dict(color="white", width=3.5, dash="dash")))
        layout_axes[xkey] = axis_dict(xr, xt, [fmt_num(v) for v in xt], "Prediction residual", ya,
                                      col_dom[c], 14)
        layout_axes[ykey] = axis_dict(yr, yt, [str(v) for v in yt], "Frequency", xa, row_dom[r], 26)

    annotations.append(dict(text=f"<b>{titles[k - 1]}</b>", xref="paper", yref="paper",
                            x=col_dom[c][0], y=row_dom[r][1], xanchor="left", yanchor="bottom",
                            yshift=6, showarrow=False, font=dict(family=FONT, size=52, color="black")))

# legend for panel (a)
leg_items = [("Observed", BLUE, 143, 172), ("Predicted", ORANGE, 192, 221)]
for label, colr, ytop, ybot in leg_items:
    shapes.append(dict(type="rect", xref="paper", yref="paper",
                       x0=266 / W, x1=322 / W, y0=1 - ybot / H, y1=1 - ytop / H,
                       fillcolor=colr, line=dict(width=0)))
    annotations.append(dict(text=label, xref="paper", yref="paper", x=350 / W,
                            y=1 - (ytop + ybot) / 2 / H, xanchor="left", yanchor="middle",
                            showarrow=False, font=dict(family=FONT, size=40, color="black")))

fig.update_layout(
    width=4395, height=3483,
    margin=dict(l=0, r=0, t=0, b=0),
    paper_bgcolor="white", plot_bgcolor="white",
    barmode="overlay", bargap=0,
    showlegend=False,
    font=dict(family=FONT, color="black"),
    shapes=shapes, annotations=annotations,
    **layout_axes,
)

# the browser viewport may be narrower than 4395 px: stretch the fixed-size figure to fill it exactly
FIT_JS = """
document.documentElement.style.margin = '0';
document.documentElement.style.overflow = 'hidden';
document.body.style.margin = '0';
document.body.style.overflow = 'hidden';
var gd = document.getElementById('{plot_id}');
var vw = window.innerWidth, vh = window.innerHeight;
var sx = vw / 4395, sy = vh / 3483;
var box = gd.parentElement;
box.style.width = vw + 'px';
box.style.height = vh + 'px';
box.style.overflow = 'hidden';
gd.style.transformOrigin = '0 0';
gd.style.transform = 'scale(' + sx + ',' + sy + ')';
"""

fig.write_html("out.html", post_script=FIT_JS, config={"displayModeBar": False})
